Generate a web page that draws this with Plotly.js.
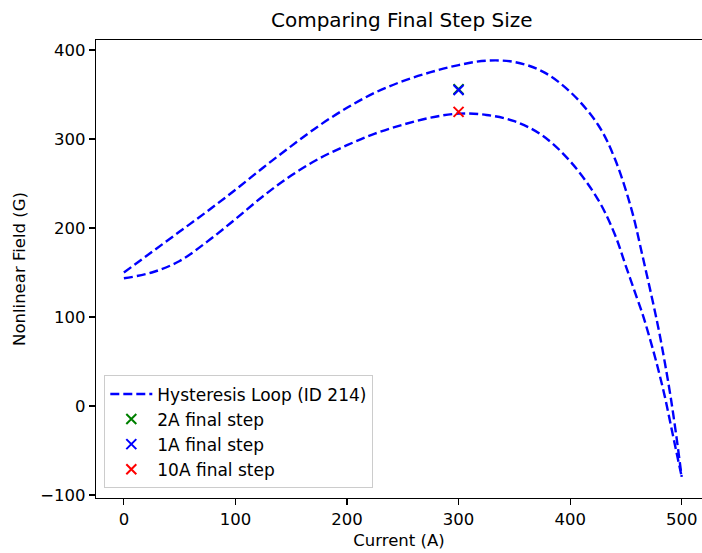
<!DOCTYPE html>
<html>
<head>
<meta charset="utf-8">
<script src="https://cdn.plot.ly/plotly-3.0.1.min.js"></script>
<style>
  html, body { margin: 0; padding: 0; background: #ffffff; }
  #chart { width: 702px; height: 553px; }
</style>
</head>
<body>
<div id="chart"></div>
<script>
// Hysteresis loop (ID 214): upper (ramp-down) and lower (ramp-up) branches
const currentUpper = [0, 25, 50, 75, 100, 125, 150, 175, 200, 225, 250, 275, 300, 325, 350, 375, 400, 425, 440, 455, 465, 475, 480, 485, 490, 495, 500];
const fieldUpper   = [150, 173, 196, 219, 243, 268, 292, 315, 335, 352, 365, 375, 383, 388, 386.5, 376, 353, 316, 278, 221, 168, 112, 82, 48, 11, -32, -79.6];

const currentLower = [0, 25, 50, 75, 100, 125, 150, 175, 200, 225, 250, 275, 300, 325, 350, 375, 400, 425, 440, 450, 460, 465, 475, 480, 485, 490, 495, 500];
const fieldLower   = [143.5, 150, 163, 185, 210, 236, 259, 278, 293, 306, 316, 324, 328.5, 327, 320, 304, 275, 232, 193, 157, 121, 103, 60, 36, 10, -20, -50, -79.6];

// Final field reached for each step size, at 300 A
const stepLabels  = ['2A final step', '1A final step', '10A final step'];
const stepCurrent = [300, 300, 300];
const stepField   = [356, 355, 330.5];
const stepColors  = ['#008000', '#0000ff', '#ff0000'];

const font = { family: 'DejaVu Sans, sans-serif', size: 16.5, color: '#000000' };
const loopLine = { color: '#0000ff', width: 2.4, dash: '9px,4px', shape: 'spline', smoothing: 1 };

const traces = [
  {
    x: currentUpper, y: fieldUpper, type: 'scatter', mode: 'lines',
    name: 'Hysteresis Loop (ID 214)', line: loopLine,
    legendgroup: 'loop', showlegend: true
  },
  {
    x: currentLower, y: fieldLower, type: 'scatter', mode: 'lines',
    name: 'Hysteresis Loop (ID 214)', line: loopLine,
    legendgroup: 'loop', showlegend: false
  }
];

stepLabels.forEach((label, i) => {
  traces.push({
    x: [stepCurrent[i]], y: [stepField[i]], type: 'scatter', mode: 'markers',
    name: label, legendgroup: 'step' + i,
    marker: {
      symbol: 'x-thin-open', size: 10, color: stepColors[i],
      line: { color: stepColors[i], width: 2 }
    }
  });
});

const layout = {
  width: 702,
  height: 553,
  paper_bgcolor: '#ffffff',
  plot_bgcolor: '#ffffff',
  font: font,
  margin: { l: 96, r: 0, t: 40, b: 55, pad: 0 },
  title: {
    text: 'Comparing Final Step Size',
    font: { family: 'DejaVu Sans, sans-serif', size: 20, color: '#000000' },
    xref: 'paper', x: 0.5045, xanchor: 'center',
    yref: 'container', y: 1 - 20 / 553, yanchor: 'middle'
  },
  xaxis: {
    range: [-25, 518.2],
    tickmode: 'array',
    tickvals: [0, 100, 200, 300, 400, 500],
    ticks: 'outside', ticklen: 6, tickwidth: 1.2, tickcolor: '#000000',
    showline: true, linecolor: '#000000', linewidth: 1.2, mirror: true,
    showgrid: false, zeroline: false,
    tickfont: font,
    title: { text: 'Current (A)', font: font, standoff: 6 }
  },
  yaxis: {
    range: [-103.3, 411.2],
    tickmode: 'array',
    tickvals: [-100, 0, 100, 200, 300, 400],
    ticks: 'outside', ticklen: 6, tickwidth: 1.2, tickcolor: '#000000',
    showline: true, linecolor: '#000000', linewidth: 1.2, mirror: false,
    showgrid: false, zeroline: false,
    tickfont: font,
    title: { text: 'Nonlinear Field (G)', font: font, standoff: 10 }
  },
  showlegend: true,
  legend: {
    x: 0.0137, y: 0.021, xanchor: 'left', yanchor: 'bottom',
    bgcolor: 'rgba(255,255,255,0.8)',
    bordercolor: '#cccccc', borderwidth: 1,
    font: { family: 'DejaVu Sans, sans-serif', size: 17, color: '#000000' },
    tracegroupgap: 0,
    itemwidth: 42
  }
};

Plotly.newPlot('chart', traces, layout, { displayModeBar: false, staticPlot: true });
</script>
</body>
</html>
